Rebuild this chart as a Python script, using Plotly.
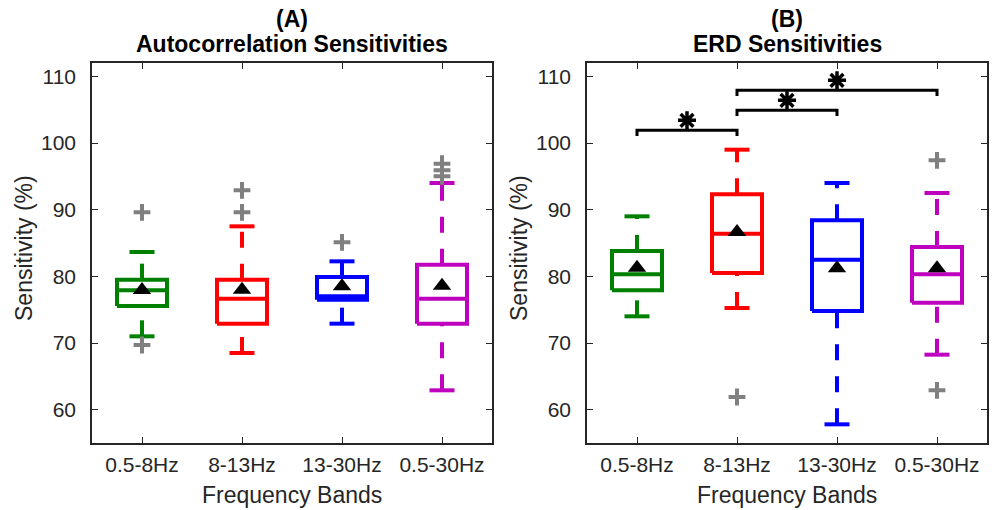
import plotly.graph_objects as go

# Frequency bands shown on both panels
bands = ["0.5-8Hz", "8-13Hz", "13-30Hz", "0.5-30Hz"]
band_colors = ["#008000", "#FF0000", "#0000FF", "#BF00BF"]

# (A) Autocorrelation sensitivities (%) - box statistics per band
ac_lower = [71.0, 68.5, 72.9, 62.9]
ac_q1 = [75.55, 72.9, 76.5, 72.9]
ac_median = [77.9, 76.65, 77.0, 76.65]
ac_q3 = [79.5, 79.5, 79.9, 81.75]
ac_upper = [83.65, 87.5, 82.25, 94.0]
ac_mean = [77.95, 78.0, 78.5, 78.6]
ac_outliers = [[89.6, 69.7], [92.9, 89.6], [85.1], [96.9, 95.9, 95.0]]

# (B) ERD sensitivities (%) - box statistics per band
erd_lower = [74.0, 75.25, 57.8, 68.25]
erd_q1 = [77.9, 80.5, 74.8, 76.05]
erd_median = [80.3, 86.4, 82.5, 80.3]
erd_q3 = [83.8, 92.3, 88.4, 84.4]
erd_upper = [89.0, 99.0, 94.0, 92.5]
erd_mean = [81.3, 86.65, 81.2, 81.2]
erd_outliers = [[], [61.9], [], [97.4, 62.9]]

# Significance brackets on panel B: (band a, band b, bar level, star level)
sig_from = [1, 2, 2]
sig_to = [2, 3, 4]
sig_level = [101.9, 104.9, 107.9]
sig_star = [103.4, 106.4, 109.4]

BOX_HALF = 0.25
CAP_HALF = 0.125
LW = 4
AXIS_COLOR = "#262626"
FONT = "Liberation Sans, Arial, Helvetica, sans-serif"

fig = go.Figure()


def add_boxes(stats, xa, ya):
    lower, q1, med, q3, upper, mean, outl = stats
    for i, col in enumerate(band_colors):
        c = i + 1
        common = dict(xaxis=xa, yaxis=ya, mode="lines", showlegend=False, hoverinfo="skip")
        # dashed whiskers: upper runs from the box up, lower runs from the cap up
        fig.add_trace(go.Scatter(x=[c, c], y=[q3[i], upper[i]],
                                 line=dict(color=col, width=LW, dash="16px,16px"), **common))
        fig.add_trace(go.Scatter(x=[c, c], y=[lower[i], q1[i]],
                                 line=dict(color=col, width=LW, dash="16px,16px"), **common))
        # whisker caps
        for v in (upper[i], lower[i]):
            fig.add_trace(go.Scatter(x=[c - CAP_HALF, c + CAP_HALF], y=[v, v],
                                     line=dict(color=col, width=LW), **common))
        # box and median
        fig.add_trace(go.Scatter(
            x=[c - BOX_HALF, c + BOX_HALF, c + BOX_HALF, c - BOX_HALF, c - BOX_HALF],
            y=[q1[i], q1[i], q3[i], q3[i], q1[i]],
            line=dict(color=col, width=LW), **common))
        fig.add_trace(go.Scatter(x=[c - BOX_HALF, c + BOX_HALF], y=[med[i], med[i]],
                                 line=dict(color=col, width=LW), **common))
        # outliers
        if outl[i]:
            fig.add_trace(go.Scatter(
                x=[c] * len(outl[i]), y=outl[i], xaxis=xa, yaxis=ya, mode="markers",
                marker=dict(symbol="cross-thin-open", size=12, color="#808080",
                            line=dict(color="#808080", width=4)),
                showlegend=False, hoverinfo="skip"))
    # means
    fig.add_trace(go.Scatter(
        x=[1, 2, 3, 4], y=mean, xaxis=xa, yaxis=ya, mode="markers",
        marker=dict(symbol="triangle-up", size=16, color="black"),
        showlegend=False, hoverinfo="skip"))


add_boxes((ac_lower, ac_q1, ac_median, ac_q3, ac_upper, ac_mean, ac_outliers), "x", "y")
add_boxes((erd_lower, erd_q1, erd_median, erd_q3, erd_upper, erd_mean, erd_outliers), "x2", "y2")

# significance brackets and asterisks
for a, b, lvl, st in zip(sig_from, sig_to, sig_level, sig_star):
    fig.add_trace(go.Scatter(
        x=[a, a, b, b], y=[lvl - 0.85, lvl, lvl, lvl - 0.85], xaxis="x2", yaxis="y2",
        mode="lines", line=dict(color="black", width=3), showlegend=False, hoverinfo="skip"))
    fig.add_trace(go.Scatter(
        x=[(a + b) / 2], y=[st], xaxis="x2", yaxis="y2", mode="markers",
        marker=dict(symbol="asterisk-open", size=15, color="black",
                    line=dict(color="black", width=3.5)),
        showlegend=False, hoverinfo="skip"))

W, H = 995, 510
top_px, bot_px = 63, 443
dom_y = [(H - bot_px) / H, (H - top_px) / H]
dom_a = [92 / W, 492 / W]
dom_b = [587 / W, 987 / W]

xaxis_style = dict(
    range=[0.5, 4.5], tickmode="array", tickvals=[1, 2, 3, 4], ticktext=bands,
    ticks="inside", ticklen=6, tickwidth=1.3, tickcolor=AXIS_COLOR,
    showline=True, linecolor=AXIS_COLOR, linewidth=1.5, mirror="ticks",
    showgrid=False, zeroline=False, fixedrange=True,
    tickfont=dict(family=FONT, size=21, color=AXIS_COLOR), ticklabelstandoff=2,
)
yaxis_style = dict(
    range=[55, 112], tickmode="array", tickvals=[60, 70, 80, 90, 100, 110],
    ticks="inside", ticklen=6, tickwidth=1.3, tickcolor=AXIS_COLOR,
    showline=True, linecolor=AXIS_COLOR, linewidth=1.5, mirror="ticks",
    showgrid=False, zeroline=False, fixedrange=True, domain=dom_y,
    tickfont=dict(family=FONT, size=21, color=AXIS_COLOR), ticklabelstandoff=10,
)

fig.update_layout(
    width=W, height=H, margin=dict(l=0, r=0, t=0, b=0),
    paper_bgcolor="white", plot_bgcolor="white",
    xaxis=dict(domain=dom_a, anchor="y", **xaxis_style),
    yaxis=dict(anchor="x", **yaxis_style),
    xaxis2=dict(domain=dom_b, anchor="y2", **xaxis_style),
    yaxis2=dict(anchor="x2", **yaxis_style),
)

panels = [(dom_a, "(A)", "Autocorrelation Sensitivities", 24),
          (dom_b, "(B)", "ERD Sensitivities", 519)]
for dom, tag, name, ylab_x in panels:
    cx = (dom[0] + dom[1]) / 2
    fig.add_annotation(x=cx, y=1 - 19 / H, xref="paper", yref="paper", text="<b>" + tag + "</b>",
                       showarrow=False, xanchor="center", yanchor="middle",
                       font=dict(family=FONT, size=23, color="black"))
    fig.add_annotation(x=cx, y=1 - 44 / H, xref="paper", yref="paper", text="<b>" + name + "</b>",
                       showarrow=False, xanchor="center", yanchor="middle",
                       font=dict(family=FONT, size=23, color="black"))
    fig.add_annotation(x=cx, y=1 - 495 / H, xref="paper", yref="paper", text="Frequency Bands",
                       showarrow=False, xanchor="center", yanchor="middle",
                       font=dict(family=FONT, size=23, color=AXIS_COLOR))
    fig.add_annotation(x=ylab_x / W, y=1 - 248 / H, xref="paper", yref="paper",
                       text="Sensitivity (%)", textangle=-90,
                       showarrow=False, xanchor="center", yanchor="middle",
                       font=dict(family=FONT, size=23, color=AXIS_COLOR))

fig.write_html("out.html")
